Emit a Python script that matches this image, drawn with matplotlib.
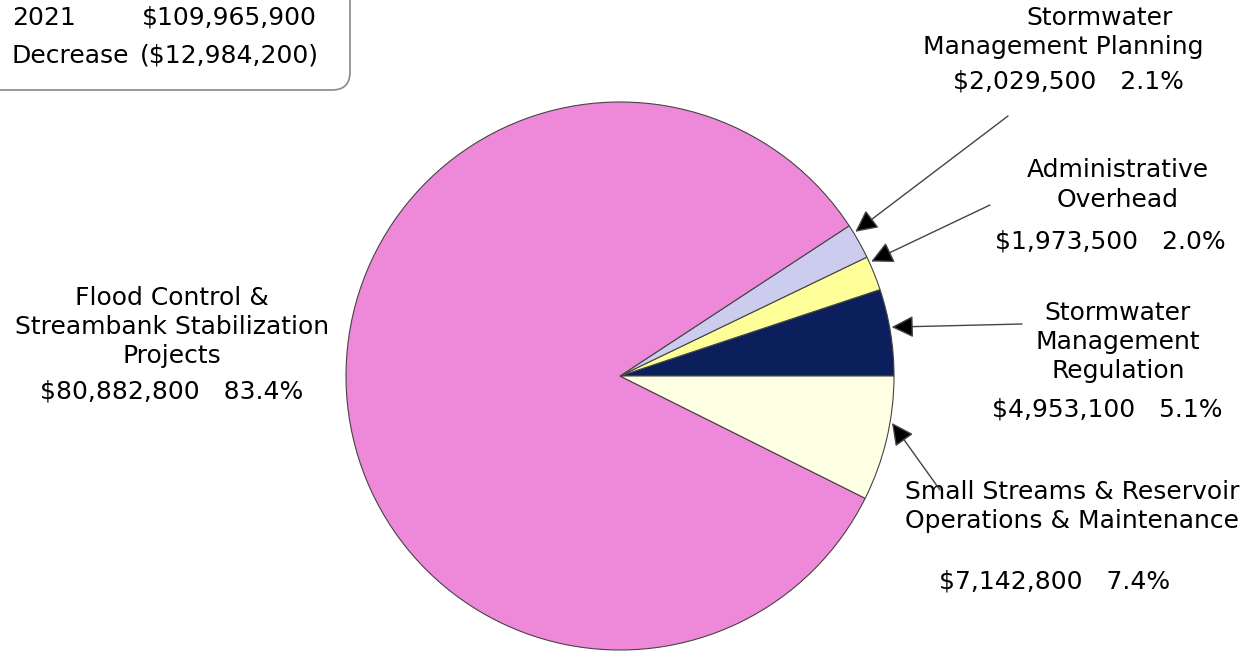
import numpy as np
import matplotlib.pyplot as plt
from matplotlib.patches import FancyBboxPatch

# du lieu
names = ['Stormwater Management Regulation', 'Administrative Overhead',
         'Stormwater Management Planning',
         'Flood Control & Streambank Stabilization Projects',
         'Small Streams & Reservoir Operations & Maintenance']
amounts = [4953100, 1973500, 2029500, 80882800, 7142800]
pct_labels = ['5.1%', '2.0%', '2.1%', '83.4%', '7.4%']
colors = ['#0B1F5C', '#FFFF99', '#CCCCEE', '#EE88D8', '#FFFFE3']
total_2021 = '$109,965,900'
decrease = '($12,984,200)'

W, H = 1253, 652
fig = plt.figure(figsize=(W / 100, H / 100), dpi=100)
ax = fig.add_axes([0, 0, 1, 1])

cx, cy, r = 620, 376, 274
# truc y dao nguoc -> counterclock=False de thu tu tren man hinh nguoc chieu kim dong ho
wedges, _ = ax.pie(amounts, colors=colors, startangle=0, counterclock=False,
                   center=(cx, cy), radius=r, frame=True,
                   wedgeprops=dict(edgecolor='#444444', linewidth=0.8))
ax.set_xlim(0, W)
ax.set_ylim(H, 0)
ax.set_aspect('equal')
ax.axis('off')

fs = 18


def money(v):
    return '${:,}'.format(v)


# vi tri nhan (bo cuc)
label_text = {
    0: ['Stormwater', 'Management', 'Regulation'],
    1: ['Administrative', 'Overhead'],
    2: ['Stormwater', 'Management Planning'],
    3: ['Flood Control &', 'Streambank Stabilization', 'Projects'],
    4: ['Small Streams & Reservoir', 'Operations & Maintenance'],
}
label_pos = {
    0: (1118, [313, 342, 371], (1107, 410)),
    1: (1118, [170, 200], (1110, 241)),
    2: (1100, [18, 47], (1068, 82)),
    3: (172, [298, 327, 356], (172, 392)),
    4: (1072, [492, 521], (1055, 582)),
}
for i, (x, ys, (vx, vy)) in label_pos.items():
    lines = label_text[i]
    for t, y in zip(lines, ys):
        xx = x if not (i == 2 and t != 'Stormwater') else 1063
        ax.text(xx, y, t, ha='center', va='center', fontsize=fs)
    ax.text(vx, vy, money(amounts[i]) + '   ' + pct_labels[i],
            ha='center', va='center', fontsize=fs)

# mui ten: goc tren mep banh, diem duoi
arrows = {
    2: (29.5 + 2.0, (1008, 116)),
    1: (22.0 + 2.5, (990, 205)),
    0: (9.2 + 1.0, (1022, 324)),
    4: (-13.3 + 3.5, (940, 490)),
}
for i, (ang, tail) in arrows.items():
    a = np.deg2rad(ang)
    tip = (cx + (r + 2) * np.cos(a), cy - (r + 2) * np.sin(a))
    ax.annotate('', xy=tip, xytext=tail,
                arrowprops=dict(arrowstyle='-|>,head_length=0.8,head_width=0.4',
                                lw=1.0, mutation_scale=17,
                                fc='black', ec='#444444',
                                shrinkA=0, shrinkB=0))

# hop tong so
box = FancyBboxPatch((-30, -60), 380, 150,
                     boxstyle='round,pad=0,rounding_size=18',
                     fc='white', ec='#888888', lw=1.2)
ax.add_patch(box)
ax.text(12, 18, '2021', ha='left', va='center', fontsize=fs)
ax.text(142, 18, total_2021, ha='left', va='center', fontsize=fs)
ax.text(12, 56, 'Decrease', ha='left', va='center', fontsize=fs)
ax.text(140, 56, decrease, ha='left', va='center', fontsize=fs)

fig.savefig('out.png', dpi=100)
